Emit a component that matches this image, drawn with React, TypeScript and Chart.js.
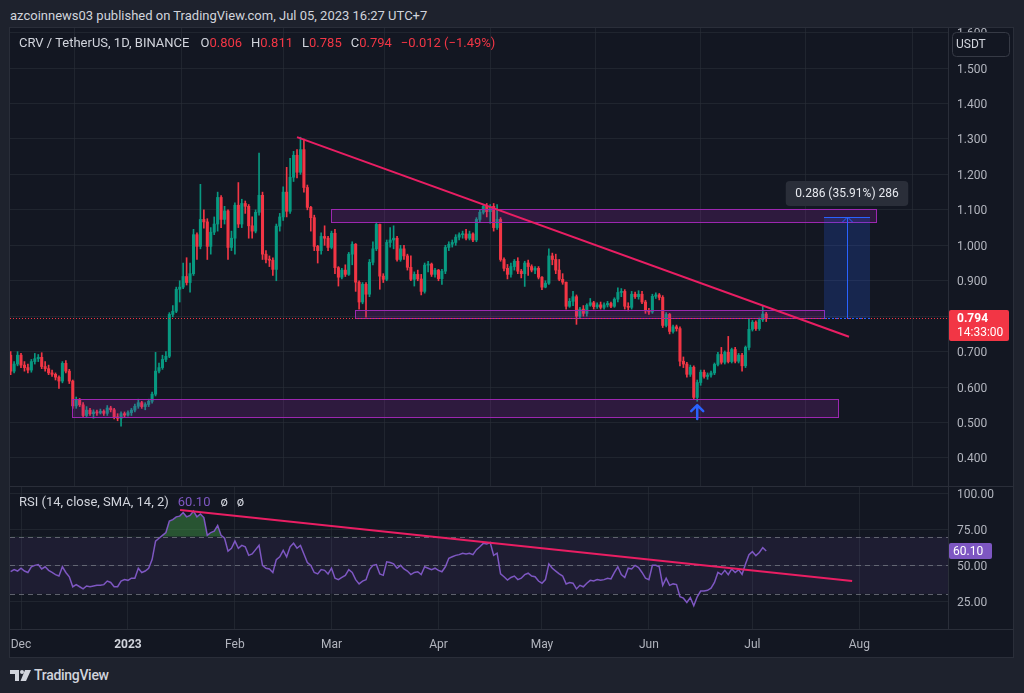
import React, { useEffect, useRef } from 'react';
import { Chart, registerables } from 'chart.js';

Chart.register(...registerables);

const FONT = 'Roboto, "Noto Sans", "Liberation Sans", sans-serif';

// Day index 0 = 1 Dec 2022. Candles run from 28 Nov 2022 (day -3) to 5 Jul 2023 (day 216).
const firstCandleDay = -3;
const firstOpen = 0.69;

const closes = [
  0.645, 0.665, 0.690, 0.662, 0.655, 0.648, 0.672, 0.680, 0.684, 0.658,
  0.652, 0.640, 0.636, 0.628, 0.617, 0.667, 0.645, 0.617, 0.547, 0.563,
  0.550, 0.520, 0.535, 0.525, 0.530, 0.527, 0.532, 0.526, 0.541, 0.536,
  0.516, 0.512, 0.525, 0.521, 0.528, 0.535, 0.546, 0.556, 0.545, 0.551,
  0.560, 0.580, 0.645, 0.655, 0.678, 0.687, 0.805, 0.814, 0.876, 0.882,
  0.912, 0.895, 0.920, 1.030, 0.997, 1.073, 1.066, 0.997, 1.037, 1.060,
  1.135, 1.073, 1.097, 0.994, 1.020, 1.113, 1.060, 1.118, 1.110, 1.055,
  1.040, 1.093, 1.141, 0.975, 0.960, 0.958, 0.932, 1.054, 1.080, 1.150,
  1.096, 1.192, 1.254, 1.206, 1.270, 1.163, 1.107, 1.078, 0.997, 0.985,
  1.025, 1.020, 0.994, 1.034, 0.937, 0.910, 0.930, 0.918, 0.975, 1.003,
  0.896, 0.840, 0.890, 0.862, 0.952, 0.990, 1.059, 0.913, 0.904, 1.008,
  1.015, 1.020, 0.960, 0.990, 0.970, 0.938, 0.904, 0.918, 0.905, 0.870,
  0.944, 0.947, 0.918, 0.930, 0.906, 0.927, 0.994, 1.003, 1.008, 1.023,
  1.030, 1.032, 1.020, 1.032, 1.015, 1.073, 1.093, 1.110, 1.095, 1.110,
  1.050, 1.073, 0.960, 0.935, 0.918, 0.940, 0.955, 0.927, 0.920, 0.950,
  0.940, 0.930, 0.935, 0.910, 0.882, 0.893, 0.970, 0.960, 0.930, 0.904,
  0.896, 0.828, 0.842, 0.855, 0.800, 0.820, 0.808, 0.831, 0.838, 0.827,
  0.832, 0.825, 0.832, 0.836, 0.828, 0.848, 0.867, 0.870, 0.828, 0.825,
  0.862, 0.855, 0.862, 0.840, 0.815, 0.812, 0.856, 0.860, 0.853, 0.774,
  0.805, 0.757, 0.770, 0.765, 0.673, 0.665, 0.636, 0.656, 0.571, 0.613,
  0.642, 0.630, 0.634, 0.640, 0.664, 0.692, 0.670, 0.698, 0.672, 0.706,
  0.673, 0.690, 0.660, 0.712, 0.763, 0.783, 0.765, 0.790, 0.806, 0.794,
];

const highs = [
  0.700, 0.672, 0.700, 0.695, 0.672, 0.665, 0.678, 0.695, 0.692, 0.697,
  0.672, 0.662, 0.648, 0.640, 0.632, 0.672, 0.675, 0.650, 0.620, 0.572,
  0.568, 0.556, 0.545, 0.540, 0.536, 0.535, 0.538, 0.536, 0.548, 0.546,
  0.540, 0.525, 0.530, 0.530, 0.533, 0.540, 0.552, 0.566, 0.560, 0.556,
  0.566, 0.586, 0.698, 0.668, 0.690, 0.700, 0.810, 0.830, 0.882, 0.900,
  0.950, 0.965, 0.950, 1.045, 1.035, 1.172, 1.100, 1.075, 1.050, 1.080,
  1.150, 1.140, 1.110, 1.100, 1.040, 1.120, 1.177, 1.130, 1.125, 1.115,
  1.080, 1.100, 1.260, 1.150, 0.985, 0.970, 0.965, 1.060, 1.090, 1.165,
  1.220, 1.245, 1.265, 1.270, 1.305, 1.300, 1.170, 1.110, 1.085, 1.000,
  1.035, 1.055, 1.025, 1.040, 1.045, 0.940, 0.935, 0.945, 0.980, 1.010,
  1.005, 0.900, 0.895, 0.895, 0.960, 1.010, 1.065, 1.060, 0.920, 1.015,
  1.050, 1.055, 1.025, 1.000, 1.000, 0.975, 0.970, 0.925, 0.930, 0.918,
  0.950, 0.955, 0.950, 0.935, 0.932, 0.932, 1.000, 1.010, 1.015, 1.030,
  1.035, 1.040, 1.045, 1.040, 1.035, 1.078, 1.100, 1.115, 1.118, 1.115,
  1.118, 1.115, 1.078, 0.965, 0.946, 0.950, 0.960, 0.965, 0.932, 0.955,
  0.958, 0.945, 0.940, 0.940, 0.912, 0.900, 0.990, 0.978, 0.975, 0.960,
  0.920, 0.895, 0.850, 0.870, 0.860, 0.825, 0.830, 0.835, 0.850, 0.842,
  0.838, 0.840, 0.838, 0.842, 0.840, 0.852, 0.880, 0.878, 0.875, 0.838,
  0.870, 0.868, 0.872, 0.870, 0.845, 0.822, 0.862, 0.866, 0.864, 0.858,
  0.810, 0.808, 0.775, 0.775, 0.770, 0.685, 0.670, 0.662, 0.660, 0.620,
  0.648, 0.648, 0.640, 0.645, 0.668, 0.698, 0.712, 0.702, 0.743, 0.710,
  0.712, 0.695, 0.695, 0.716, 0.792, 0.788, 0.787, 0.795, 0.830, 0.811,
];

const lows = [
  0.635, 0.640, 0.660, 0.655, 0.645, 0.640, 0.642, 0.665, 0.672, 0.652,
  0.645, 0.635, 0.630, 0.620, 0.596, 0.612, 0.640, 0.610, 0.540, 0.540,
  0.545, 0.515, 0.515, 0.520, 0.512, 0.520, 0.524, 0.520, 0.520, 0.530,
  0.510, 0.505, 0.490, 0.515, 0.518, 0.520, 0.530, 0.540, 0.540, 0.536,
  0.545, 0.555, 0.575, 0.640, 0.650, 0.672, 0.683, 0.798, 0.810, 0.840,
  0.878, 0.888, 0.868, 0.915, 0.960, 0.990, 1.048, 0.960, 0.975, 1.030,
  1.040, 1.050, 1.060, 0.960, 0.985, 0.975, 1.050, 1.050, 1.090, 1.020,
  1.020, 1.035, 1.085, 0.960, 0.950, 0.940, 0.915, 0.900, 1.040, 1.070,
  1.080, 1.090, 1.180, 1.190, 1.200, 1.150, 1.100, 1.040, 0.985, 0.950,
  0.975, 1.000, 0.985, 0.990, 0.920, 0.885, 0.905, 0.912, 0.915, 0.945,
  0.870, 0.820, 0.835, 0.797, 0.855, 0.945, 0.985, 0.876, 0.895, 0.900,
  0.995, 0.990, 0.955, 0.955, 0.960, 0.930, 0.900, 0.885, 0.900, 0.860,
  0.865, 0.925, 0.912, 0.910, 0.900, 0.890, 0.920, 0.985, 0.995, 1.000,
  1.015, 1.020, 1.015, 1.015, 1.010, 1.010, 1.065, 1.088, 1.080, 1.062,
  1.040, 1.045, 0.955, 0.928, 0.905, 0.910, 0.930, 0.920, 0.908, 0.884,
  0.915, 0.925, 0.920, 0.905, 0.875, 0.880, 0.890, 0.945, 0.920, 0.900,
  0.890, 0.820, 0.825, 0.830, 0.777, 0.795, 0.800, 0.800, 0.828, 0.820,
  0.822, 0.820, 0.820, 0.826, 0.824, 0.825, 0.840, 0.855, 0.820, 0.815,
  0.820, 0.850, 0.848, 0.835, 0.808, 0.805, 0.808, 0.850, 0.846, 0.768,
  0.770, 0.750, 0.752, 0.758, 0.660, 0.655, 0.628, 0.630, 0.565, 0.560,
  0.605, 0.625, 0.622, 0.628, 0.635, 0.660, 0.665, 0.665, 0.668, 0.668,
  0.668, 0.668, 0.645, 0.655, 0.705, 0.758, 0.760, 0.760, 0.785, 0.785,
];

const rsiValues = [
  45.6, 47, 46, 48, 46, 45, 49, 50, 50.5, 47.5,
  49, 46.5, 45, 43.5, 42.5, 49, 45, 42, 35, 36.5,
  35, 33.5, 35.5, 35, 35.5, 36, 36, 36.5, 39, 38,
  35, 35, 39, 40, 39.5, 41, 41, 48, 45, 46,
  48, 54, 67, 69, 71, 73, 81, 82, 84, 84.5,
  87, 84, 85, 88, 84, 86, 83.5, 71, 73, 74,
  78, 71, 69, 60, 62, 67, 62, 64, 63, 57,
  58, 61, 64, 50, 48, 47.5, 45, 54, 56, 60.5,
  56, 63, 65.5, 62, 64, 58, 52, 50, 45, 44,
  47, 46.5, 44, 48, 41, 40, 41.5, 43, 47, 45,
  40, 37, 39, 40, 47, 50, 50.5, 44, 43, 52.5,
  52, 51, 48, 50, 47.5, 46, 43.5, 45, 45.5, 43.5,
  49, 48, 47, 48, 46.5, 45.5, 49, 55, 56, 57,
  57.5, 58.5, 58, 58.4, 57.5, 61, 63, 65.4, 65, 66,
  57, 58.5, 44, 42, 39.7, 41.5, 42.5, 40, 41, 43.5,
  44.5, 42.5, 42, 39, 37.5, 40, 51, 48, 46, 44,
  42.5, 37, 38, 37.5, 33.5, 36, 35, 37.5, 39.5, 39,
  40, 39.5, 40, 41, 40.5, 45, 49, 43.5, 41.5, 48,
  47.5, 50, 48.5, 45, 41, 40, 50, 50, 49, 36,
  41, 36, 37, 36.5, 28, 27, 24, 27.5, 21.7, 28,
  32, 32, 32.5, 34, 38, 45, 43.5, 46.5, 43.5, 47.5,
  45, 47, 43.7, 51, 57.5, 59.6, 56.8, 59, 62.4, 60.1,
];

const monthTickDays = [0, 31, 62, 90, 121, 151, 182, 212, 243];
const monthTickLabels = ['Dec', '2023', 'Feb', 'Mar', 'Apr', 'May', 'Jun', 'Jul', 'Aug'];
const priceTicks = [0.4, 0.5, 0.6, 0.7, 0.8, 0.9, 1.0, 1.1, 1.2, 1.3, 1.4, 1.5, 1.6];
const rsiTicks = [25, 50, 75, 100];
const rsiLevels = [70, 50, 30];

// Drawings (in day / price units)
const trendMainDays = [80, 240];
const trendMainPrices = [1.305, 0.742];
const trendRsiDays = [46.1, 240.9];
const trendRsiValues = [88.8, 39.0];
const zoneStartDays = [89.9, 96.8, 14.8];
const zoneEndDays = [247.8, 232.75, 236.8];
const zoneTopPrices = [1.101, 0.817, 0.566];
const zoneBottomPrices = [1.065, 0.794, 0.515];
const longStartDay = 232.75;
const longEndDay = 246.1;
const longEntry = 0.794;
const longTarget = 1.08;
const longLabel = '0.286 (35.91%) 286';
const arrowDay = 196;
const arrowTipPrice = 0.549;
const arrowBasePrice = 0.51;
const lastPrice = 0.794;
const lastPriceText = '0.794';
const countdownText = '14:33:00';
const lastRsi = 60.1;

// View window
const viewStartDay = -3.19;
const viewEndDay = 268.69;
const priceMin = 0.321;
const priceMax = 1.613;
const rsiMin = 5.4;
const rsiMax = 105.6;

const UP = '#089981';
const DOWN = '#f23645';
const GRID = 'rgba(42,46,57,0.6)';
const AXIS_TEXT = '#b2b5be';
const TEXT = '#d1d4dc';
const PINK = '#e91e63';
const PURPLE = '#7e57c2';
const PANE_BG = '#131722';
const OUTER_BG = '#1e222d';
const BORDER = '#2a2e39';

function roundRect(ctx: any, x: number, y: number, w: number, h: number, r: number) {
  ctx.beginPath();
  ctx.moveTo(x + r, y);
  ctx.lineTo(x + w - r, y);
  ctx.quadraticCurveTo(x + w, y, x + w, y + r);
  ctx.lineTo(x + w, y + h - r);
  ctx.quadraticCurveTo(x + w, y + h, x + w - r, y + h);
  ctx.lineTo(x + r, y + h);
  ctx.quadraticCurveTo(x, y + h, x, y + h - r);
  ctx.lineTo(x, y + r);
  ctx.quadraticCurveTo(x, y, x + r, y);
  ctx.closePath();
}

function zeroPadding(s: any) {
  s.paddingTop = 0;
  s.paddingBottom = 0;
  s.paddingLeft = 0;
  s.paddingRight = 0;
}

const mainOverlay = {
  id: 'mainOverlay',
  afterDatasetsDraw(chart: any) {
    const { ctx, chartArea: a, scales } = chart;
    const x = scales.x;
    const y = scales.y;
    ctx.save();
    ctx.beginPath();
    ctx.rect(a.left, a.top, a.right - a.left, a.bottom - a.top);
    ctx.clip();

    // rectangles
    for (let i = 0; i < zoneStartDays.length; i++) {
      const x0 = Math.round(x.getPixelForValue(zoneStartDays[i]));
      const x1 = Math.round(x.getPixelForValue(zoneEndDays[i]));
      const y0 = Math.round(y.getPixelForValue(zoneTopPrices[i]));
      const y1 = Math.round(y.getPixelForValue(zoneBottomPrices[i]));
      ctx.fillStyle = 'rgba(156,39,176,0.2)';
      ctx.fillRect(x0, y0, x1 - x0, y1 - y0);
      ctx.strokeStyle = '#9c27b0';
      ctx.lineWidth = 1;
      ctx.strokeRect(x0 + 0.5, y0 + 0.5, x1 - x0, y1 - y0);
    }

    // last price dotted line
    const py = Math.round(y.getPixelForValue(lastPrice)) + 0.5;
    ctx.strokeStyle = DOWN;
    ctx.lineWidth = 1;
    ctx.setLineDash([1, 2]);
    ctx.beginPath();
    ctx.moveTo(a.left, py);
    ctx.lineTo(a.right, py);
    ctx.stroke();
    ctx.setLineDash([]);

    // long position box
    const lx0 = Math.round(x.getPixelForValue(longStartDay));
    const lx1 = Math.round(x.getPixelForValue(longEndDay));
    const ly0 = Math.round(y.getPixelForValue(longTarget));
    const ly1 = Math.round(y.getPixelForValue(longEntry));
    ctx.fillStyle = 'rgba(41,98,255,0.2)';
    ctx.fillRect(lx0, ly0, lx1 - lx0, ly1 - ly0);
    ctx.strokeStyle = '#2962ff';
    ctx.lineWidth = 1;
    ctx.beginPath();
    ctx.moveTo(lx0, ly0 + 0.5);
    ctx.lineTo(lx1, ly0 + 0.5);
    ctx.stroke();
    ctx.setLineDash([2, 2]);
    ctx.beginPath();
    ctx.moveTo(lx0, ly1 + 0.5);
    ctx.lineTo(lx1, ly1 + 0.5);
    ctx.stroke();
    ctx.setLineDash([]);
    const lcx = Math.round((lx0 + lx1) / 2) + 0.5;
    ctx.beginPath();
    ctx.moveTo(lcx, ly1);
    ctx.lineTo(lcx, ly0);
    ctx.moveTo(lcx - 5, ly0 + 5);
    ctx.lineTo(lcx, ly0);
    ctx.lineTo(lcx + 5, ly0 + 5);
    ctx.stroke();

    // trend line
    ctx.strokeStyle = PINK;
    ctx.lineWidth = 2;
    ctx.beginPath();
    ctx.moveTo(x.getPixelForValue(trendMainDays[0]), y.getPixelForValue(trendMainPrices[0]));
    ctx.lineTo(x.getPixelForValue(trendMainDays[1]), y.getPixelForValue(trendMainPrices[1]));
    ctx.stroke();

    // arrow
    const ax = x.getPixelForValue(arrowDay);
    const at = y.getPixelForValue(arrowTipPrice);
    const ab = y.getPixelForValue(arrowBasePrice);
    ctx.strokeStyle = '#2962ff';
    ctx.lineWidth = 2.5;
    ctx.lineCap = 'round';
    ctx.lineJoin = 'round';
    ctx.beginPath();
    ctx.moveTo(ax, ab);
    ctx.lineTo(ax, at);
    ctx.moveTo(ax - 6, at + 6);
    ctx.lineTo(ax, at);
    ctx.lineTo(ax + 6, at + 6);
    ctx.stroke();
    ctx.restore();

    // long label
    ctx.save();
    ctx.font = `12px ${FONT}`;
    const tw = ctx.measureText(longLabel).width;
    const bw = tw + 19;
    const bh = 25;
    const bx = (lx0 + lx1) / 2 - bw / 2;
    const by = ly0 - 11 - bh;
    ctx.fillStyle = '#2a2e39';
    roundRect(ctx, bx, by, bw, bh, 4);
    ctx.fill();
    ctx.fillStyle = '#e6e8ee';
    ctx.textBaseline = 'middle';
    ctx.textAlign = 'center';
    ctx.fillText(longLabel, (lx0 + lx1) / 2, by + bh / 2 + 0.5);
    ctx.restore();
  },
  afterDraw(chart: any) {
    const { ctx, chartArea: a, scales } = chart;
    const y = scales.y;
    ctx.save();
    // last price label
    const py = Math.round(y.getPixelForValue(lastPrice));
    ctx.fillStyle = DOWN;
    roundRect(ctx, a.right + 1, py - 8, 60, 31, 2);
    ctx.fill();
    ctx.fillStyle = '#ffffff';
    ctx.textBaseline = 'middle';
    ctx.textAlign = 'left';
    ctx.font = `bold 12px ${FONT}`;
    ctx.fillText(lastPriceText, a.right + 9, py + 0.5);
    ctx.font = `12px ${FONT}`;
    ctx.fillText(countdownText, a.right + 9, py + 14.5);
    // USDT box
    ctx.fillStyle = PANE_BG;
    roundRect(ctx, a.right + 4.5, 4.5, 57, 24, 4);
    ctx.fill();
    ctx.strokeStyle = '#363a45';
    ctx.lineWidth = 1;
    ctx.stroke();
    ctx.fillStyle = TEXT;
    ctx.font = `12px ${FONT}`;
    ctx.fillText('USDT', a.right + 8, 16.5);
    ctx.restore();
  },
};

const rsiOverlay = {
  id: 'rsiOverlay',
  beforeDatasetsDraw(chart: any) {
    const { ctx, chartArea: a, scales } = chart;
    const y = scales.y;
    ctx.save();
    const yt = y.getPixelForValue(rsiLevels[0]);
    const yb = y.getPixelForValue(rsiLevels[2]);
    ctx.fillStyle = 'rgba(126,87,194,0.1)';
    ctx.fillRect(a.left, yt, a.right - a.left, yb - yt);
    ctx.strokeStyle = 'rgba(120,123,134,0.75)';
    ctx.lineWidth = 1;
    ctx.setLineDash([5, 4]);
    for (const lv of rsiLevels) {
      const yy = Math.round(y.getPixelForValue(lv)) + 0.5;
      ctx.beginPath();
      ctx.moveTo(a.left, yy);
      ctx.lineTo(a.right, yy);
      ctx.stroke();
    }
    ctx.restore();
  },
  afterDatasetsDraw(chart: any) {
    const { ctx, chartArea: a, scales } = chart;
    const x = scales.x;
    const y = scales.y;
    ctx.save();
    ctx.beginPath();
    ctx.rect(a.left, a.top, a.right - a.left, a.bottom - a.top);
    ctx.clip();
    ctx.strokeStyle = PINK;
    ctx.lineWidth = 2;
    ctx.beginPath();
    ctx.moveTo(x.getPixelForValue(trendRsiDays[0]), y.getPixelForValue(trendRsiValues[0]));
    ctx.lineTo(x.getPixelForValue(trendRsiDays[1]), y.getPixelForValue(trendRsiValues[1]));
    ctx.stroke();
    ctx.restore();
  },
  afterDraw(chart: any) {
    const { ctx, chartArea: a, scales } = chart;
    const y = scales.y;
    const py = Math.round(y.getPixelForValue(lastRsi));
    ctx.save();
    ctx.fillStyle = PURPLE;
    roundRect(ctx, a.right + 1, py - 8, 43, 16, 2);
    ctx.fill();
    ctx.fillStyle = '#ffffff';
    ctx.font = `12px ${FONT}`;
    ctx.textBaseline = 'middle';
    ctx.textAlign = 'left';
    ctx.fillText(lastRsi.toFixed(2), a.right + 5, py + 0.5);
    ctx.restore();
  },
};

export default function App() {
  const mainRef = useRef<HTMLCanvasElement>(null);
  const rsiRef = useRef<HTMLCanvasElement>(null);

  useEffect(() => {
    Chart.defaults.font.family = FONT;
    const candleDays = closes.map((_, i) => firstCandleDay + i);
    const opens = closes.map((_, i) => (i === 0 ? firstOpen : closes[i - 1]));
    const colors = closes.map((c, i) => (c >= opens[i] ? UP : DOWN));

    const xCommon = {
      type: 'linear',
      min: viewStartDay,
      max: viewEndDay,
      offset: false,
      afterBuildTicks: (s: any) => {
        s.ticks = monthTickDays.map((v) => ({ value: v }));
      },
      grid: { color: GRID, drawTicks: false },
      border: { display: false },
    };

    const main = new Chart(mainRef.current as HTMLCanvasElement, {
      type: 'bar',
      data: {
        datasets: [
          {
            label: 'wicks',
            data: candleDays.map((d, i) => ({
              x: d,
              y: [Math.min(lows[i], opens[i], closes[i]), Math.max(highs[i], opens[i], closes[i])],
            })),
            backgroundColor: colors,
            barThickness: 1,
            maxBarThickness: 1,
            grouped: false,
            borderWidth: 0,
          },
          {
            label: 'bodies',
            data: candleDays.map((d, i) => ({ x: d, y: [opens[i], closes[i]] })),
            backgroundColor: colors,
            barThickness: 2.4,
            maxBarThickness: 2.4,
            grouped: false,
            minBarLength: 1,
            borderWidth: 0,
          },
        ] as any,
      },
      options: {
        animation: false,
        responsive: false,
        maintainAspectRatio: false,
        events: [],
        layout: { padding: 0, autoPadding: false } as any,
        plugins: { legend: { display: false }, tooltip: { enabled: false } },
        scales: {
          x: {
            ...xCommon,
            ticks: { display: false },
            afterFit: (s: any) => {
              s.height = 0;
              zeroPadding(s);
            },
          } as any,
          y: {
            type: 'linear',
            position: 'right',
            min: priceMin,
            max: priceMax,
            afterBuildTicks: (s: any) => {
              s.ticks = priceTicks.map((v) => ({ value: v }));
            },
            afterFit: (s: any) => {
              s.width = 65;
              zeroPadding(s);
            },
            ticks: {
              color: AXIS_TEXT,
              font: { size: 12, family: FONT },
              padding: 9,
              labelOffset: 1.5,
              autoSkip: false,
              callback: (v: any) => Number(v).toFixed(3),
            },
            grid: { color: GRID, drawTicks: false },
            border: { display: true, color: BORDER },
          } as any,
        },
      },
      plugins: [mainOverlay],
    });

    const rsi = new Chart(rsiRef.current as HTMLCanvasElement, {
      type: 'line',
      data: {
        datasets: [
          {
            label: 'RSI',
            data: candleDays.map((d, i) => ({ x: d, y: rsiValues[i] })),
            borderColor: PURPLE,
            borderWidth: 1.5,
            pointRadius: 0,
            tension: 0,
            fill: { target: { value: 70 }, above: 'rgba(67,160,71,0.45)', below: 'rgba(0,0,0,0)' },
          },
        ] as any,
      },
      options: {
        animation: false,
        responsive: false,
        maintainAspectRatio: false,
        events: [],
        layout: { padding: 0, autoPadding: false } as any,
        plugins: { legend: { display: false }, tooltip: { enabled: false } },
        scales: {
          x: {
            ...xCommon,
            ticks: {
              autoSkip: false,
              maxRotation: 0,
              padding: 9,
              color: (c: any) => (c.tick && c.tick.value === 31 ? TEXT : AXIS_TEXT),
              font: (c: any) => ({
                family: FONT,
                size: 12,
                weight: c.tick && c.tick.value === 31 ? 'bold' : 'normal',
              }),
              callback: (v: any) => {
                const i = monthTickDays.indexOf(Number(v));
                return i >= 0 ? monthTickLabels[i] : '';
              },
            },
            afterFit: (s: any) => {
              s.height = 28;
              zeroPadding(s);
            },
          } as any,
          y: {
            type: 'linear',
            position: 'right',
            min: rsiMin,
            max: rsiMax,
            afterBuildTicks: (s: any) => {
              s.ticks = rsiTicks.map((v) => ({ value: v }));
            },
            afterFit: (s: any) => {
              s.width = 65;
              zeroPadding(s);
            },
            ticks: {
              color: AXIS_TEXT,
              font: { size: 12, family: FONT },
              padding: 9,
              labelOffset: 1.5,
              autoSkip: false,
              callback: (v: any) => Number(v).toFixed(2),
            },
            grid: { color: GRID, drawTicks: false },
            border: { display: true, color: BORDER },
          } as any,
        },
      },
      plugins: [rsiOverlay],
    });

    return () => {
      main.destroy();
      rsi.destroy();
    };
  }, []);

  const red = { color: DOWN };
  return (
    <div
      style={{
        position: 'fixed',
        left: 0,
        top: 0,
        width: 1024,
        height: 693,
        background: OUTER_BG,
        overflow: 'hidden',
        fontFamily: FONT,
      }}
    >
      <div style={{ position: 'absolute', left: 10, top: 7, fontSize: 13, lineHeight: '18px', color: TEXT, whiteSpace: 'pre' }}>
        azcoinnews03 published on TradingView.com, Jul 05, 2023 16:27 UTC+7
      </div>
      <div
        style={{
          position: 'absolute',
          left: 9,
          top: 27,
          width: 1005,
          height: 631,
          background: PANE_BG,
          border: `1px solid ${BORDER}`,
          boxSizing: 'border-box',
        }}
      />
      <canvas
        ref={mainRef}
        width={1003}
        height={458}
        style={{ position: 'absolute', left: 10, top: 28, width: 1003, height: 458 }}
      />
      <canvas
        ref={rsiRef}
        width={1003}
        height={171}
        style={{ position: 'absolute', left: 10, top: 486, width: 1003, height: 171 }}
      />
      <div style={{ position: 'absolute', left: 10, top: 486, width: 1003, height: 1, background: BORDER }} />
      <div style={{ position: 'absolute', left: 10, top: 629, width: 1003, height: 1, background: BORDER }} />
      <div style={{ position: 'absolute', left: 19, top: 35, fontSize: 13, lineHeight: '16px', color: TEXT, whiteSpace: 'pre' }}>
        <span>CRV / TetherUS, 1D, BINANCE</span>
        <span style={{ marginLeft: 11 }}>O</span>
        <span style={red}>0.806</span>
        <span style={{ marginLeft: 9 }}>H</span>
        <span style={red}>0.811</span>
        <span style={{ marginLeft: 9 }}>L</span>
        <span style={red}>0.785</span>
        <span style={{ marginLeft: 9 }}>C</span>
        <span style={red}>0.794</span>
        <span style={{ ...red, marginLeft: 9 }}>−0.012 (−1.49%)</span>
      </div>
      <div style={{ position: 'absolute', left: 19, top: 494, fontSize: 13, lineHeight: '16px', color: TEXT, whiteSpace: 'pre' }}>
        <span>RSI (14, close, SMA, 14, 2)</span>
        <span style={{ color: PURPLE, marginLeft: 9 }}>60.10</span>
        <span style={{ marginLeft: 10 }}>ø</span>
        <span style={{ marginLeft: 9 }}>ø</span>
      </div>
      <svg style={{ position: 'absolute', left: 10, top: 669 }} width={22} height={13} viewBox="0 0 22 13">
        <path d="M0 1 H9 V12 H5 V5 H0 Z" fill={TEXT} />
        <circle cx={12} cy={3} r={2} fill={TEXT} />
        <path d="M15 1 H21 L16 12 H10.5 Z" fill={TEXT} />
      </svg>
      <div style={{ position: 'absolute', left: 34, top: 666, fontSize: 14, lineHeight: '18px', color: TEXT, fontWeight: 500, letterSpacing: -0.3 }}>
        TradingView
      </div>
    </div>
  );
}
